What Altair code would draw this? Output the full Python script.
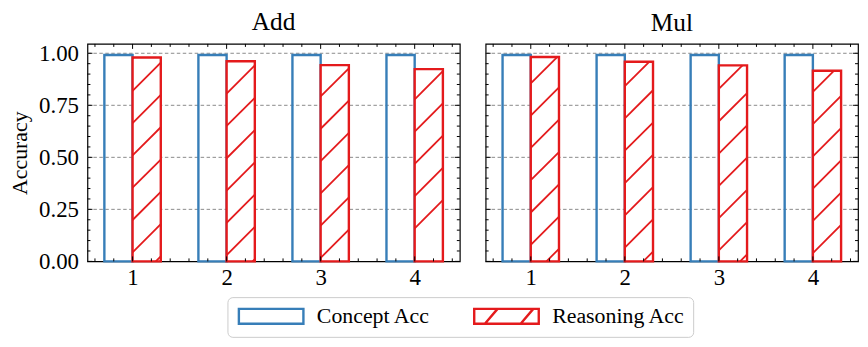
import altair as alt
import pandas as pd

# ---------------- data ----------------
panels = ["Add", "Mul"]
steps = [1, 2, 3, 4]
concept_add = [0.992, 0.992, 0.992, 0.992]
reasoning_add = [0.980, 0.962, 0.943, 0.924]
concept_mul = [0.992, 0.992, 0.992, 0.992]
reasoning_mul = [0.982, 0.959, 0.942, 0.916]
series = ["Concept Acc", "Reasoning Acc"]
colors = ["#377eb8", "#e41a1c"]

y_major = [0.0, 0.25, 0.5, 0.75, 1.0]
y_grid = [0.25, 0.5, 0.75, 1.0]
y_minor = [0.05, 0.1, 0.15, 0.2, 0.3, 0.35, 0.4, 0.45, 0.55, 0.6, 0.65,
           0.7, 0.8, 0.85, 0.9, 0.95]
x_major = [1, 2, 3, 4]
x_minor = [0.6, 0.8, 1.2, 1.4, 1.6, 1.8, 2.2, 2.4, 2.6, 2.8, 3.2, 3.4,
           3.6, 3.8, 4.2, 4.4]

# ---------------- style ----------------
FONT = "Liberation Serif"
W, H = 375, 219
XDOM = [0.52, 4.48]
YDOM = [0.0, 1.045]
BW = 0.3
K = (W / (XDOM[1] - XDOM[0])) / (H / (YDOM[1] - YDOM[0]))  # 45 deg in pixels
SPACING = 32.5 / (H / (YDOM[1] - YDOM[0]))
PHASE = {"Add": 0.137, "Mul": 0.018}

xs = alt.Scale(domain=XDOM, nice=False, zero=False)
ys = alt.Scale(domain=YDOM, nice=False, zero=False)

# legend swatches: 65 x 15 px drawn from a 15 px symbol box
RECT = "M-4.333,-1H4.333V1H-4.333Z"
HATCH = RECT + " M-2.9,1L-1.2,-1 M1.9,1L3.6,-1"

legend = alt.Legend(
    title=None, orient="none", direction="horizontal", legendX=141, legendY=255,
    symbolSize=225, symbolStrokeWidth=2.4, symbolOffset=25,
    labelFont=FONT, labelFontSize=22, labelOffset=35, columnPadding=38,
    padding=8, strokeColor="#cccccc", cornerRadius=5, fillColor="white",
)


def hatch_segments(name, values):
    rows = []
    for s, v in zip(steps, values):
        xl, xr = s, s + BW
        c0 = K * (xl - XDOM[0]) + PHASE[name]
        m = -10
        while True:
            c = c0 + m * SPACING
            m += 1
            if c > v:
                break
            xa = max(xl, xl + (0 - c) / K)
            xb = min(xr, xl + (v - c) / K)
            if xb <= xa:
                continue
            rows.append({"x": xa, "y": c + K * (xa - xl),
                         "x2": xb, "y2": c + K * (xb - xl)})
    return pd.DataFrame(rows)


def panel(name, concept, reasoning, first):
    yaxis = alt.Axis(values=y_major, format=".2f", tickSize=0, domain=False,
                     grid=False, labelPadding=9, title="Accuracy",
                     titlePadding=7) if first else None
    xaxis = alt.Axis(values=x_major, format="d", tickSize=0, domain=False,
                     grid=False, labelPadding=5, title=None)

    bars = pd.DataFrame({
        "step": steps * 2,
        "value": list(concept) + list(reasoning),
        "series": [series[0]] * 4 + [series[1]] * 4,
    })
    bars["x0"] = [s - BW for s in steps] + list(steps)
    bars["x1"] = bars["x0"] + BW

    stroke = alt.Stroke("series:N", scale=alt.Scale(domain=series, range=colors),
                        legend=legend)

    grid = alt.Chart(pd.DataFrame({"v": y_grid})).mark_rule(
        color="#8a8a8a", strokeDash=[3.5, 2.5], strokeWidth=1
    ).encode(y=alt.Y("v:Q", scale=ys, axis=yaxis), x=alt.value(0), x2=alt.value(W))

    base = alt.Chart(bars)
    concept_bars = base.transform_filter(f"datum.series == '{series[0]}'").mark_bar(
        fill="transparent", strokeWidth=2.4
    ).encode(
        x=alt.X("x0:Q", scale=xs, axis=xaxis), x2="x1:Q",
        y=alt.Y("value:Q", scale=ys, axis=yaxis), y2=alt.datum(0),
        stroke=stroke,
    )
    reason_bars = base.transform_filter(f"datum.series == '{series[1]}'").mark_bar(
        fill="white", strokeWidth=2.4
    ).encode(
        x=alt.X("x0:Q", scale=xs, axis=xaxis), x2="x1:Q",
        y=alt.Y("value:Q", scale=ys, axis=yaxis), y2=alt.datum(0),
        stroke=stroke,
    )
    hatch = alt.Chart(hatch_segments(name, reasoning)).mark_rule(
        color=colors[1], strokeWidth=1.8
    ).encode(
        x=alt.X("x:Q", scale=xs, axis=xaxis), y=alt.Y("y:Q", scale=ys, axis=yaxis),
        x2="x2:Q", y2="y2:Q",
    )
    # helper layer (clipped away) that only feeds the legend symbols
    key = alt.Chart(pd.DataFrame({"series": series, "px": [1, 1], "py": [-1, -1]})).mark_point(
        clip=True, filled=False, strokeWidth=2.4, size=225, opacity=1
    ).encode(
        x=alt.X("px:Q", scale=xs, axis=xaxis), y=alt.Y("py:Q", scale=ys, axis=yaxis),
        stroke=stroke,
        shape=alt.Shape("series:N", scale=alt.Scale(domain=series, range=[RECT, HATCH]),
                        legend=legend),
    )

    def yt(vals, ln, right):
        return alt.Chart(pd.DataFrame({"v": vals})).mark_rule(
            color="black", strokeWidth=1).encode(
            y=alt.Y("v:Q", scale=ys, axis=yaxis),
            x=alt.value(W - ln if right else 0), x2=alt.value(W if right else ln))

    def xt(vals, ln, top):
        return alt.Chart(pd.DataFrame({"v": vals})).mark_rule(
            color="black", strokeWidth=1).encode(
            x=alt.X("v:Q", scale=xs, axis=xaxis),
            y=alt.value(0 if top else H), y2=alt.value(ln if top else H - ln))

    ticks = [yt(y_major, 5, False), yt(y_major, 5, True),
             yt(y_minor, 3, False), yt(y_minor, 3, True),
             xt(x_major, 5, False), xt(x_major, 5, True),
             xt(x_minor, 3, False), xt(x_minor, 3, True)]

    return alt.layer(grid, concept_bars, reason_bars, hatch, key, *ticks).properties(
        width=W, height=H,
        title=alt.TitleParams(name, font=FONT, fontSize=25.5, fontWeight="normal",
                              offset=7, color="black"),
    )


chart = alt.hconcat(
    panel("Add", concept_add, reasoning_add, True),
    panel("Mul", concept_mul, reasoning_mul, False),
    spacing=22,
).properties(padding=0).configure_view(stroke="black", strokeWidth=1.2).configure_axis(
    labelFont=FONT, labelFontSize=23, titleFont=FONT, titleFontSize=22,
    titleFontWeight="normal", labelColor="black", titleColor="black",
).configure_legend(labelFont=FONT, labelColor="black")

chart.save("out.html", embed_options={"renderer": "svg", "actions": False})
